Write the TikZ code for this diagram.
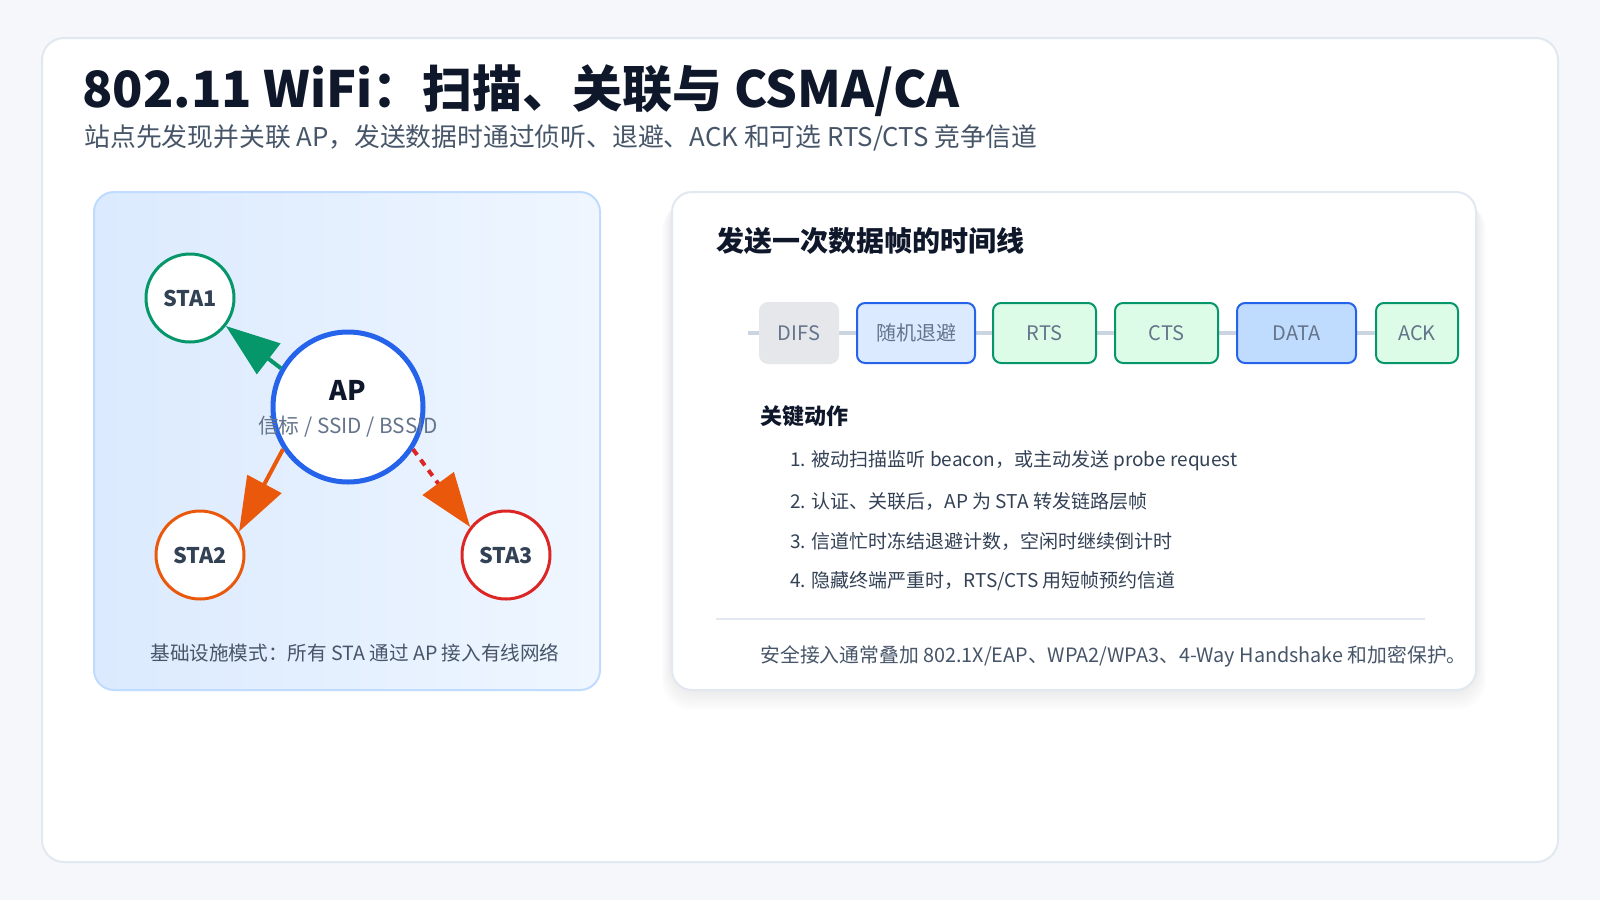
\documentclass[tikz,border=0pt]{standalone}
\usepackage{fontspec}
\setmainfont{Noto Sans CJK SC}
\usetikzlibrary{arrows.meta}

\definecolor{pagebg}{HTML}{F5F7FA}
\definecolor{cardline}{HTML}{E2E8F0}
\definecolor{ink}{HTML}{0F172A}
\definecolor{body}{HTML}{334155}
\definecolor{muted}{HTML}{475569}
\definecolor{slate}{HTML}{64748B}
\definecolor{wblue}{HTML}{2563EB}
\definecolor{wgreen}{HTML}{059669}
\definecolor{worange}{HTML}{EA580C}
\definecolor{wred}{HTML}{DC2626}
\definecolor{panelline}{HTML}{BFDBFE}
\definecolor{panelA}{HTML}{DBEAFE}
\definecolor{panelB}{HTML}{EFF6FF}
\definecolor{difsfill}{HTML}{E5E7EB}
\definecolor{rail}{HTML}{CBD5E1}
\definecolor{greenfill}{HTML}{DCFCE7}
\definecolor{bluefill}{HTML}{DBEAFE}
\definecolor{datafill}{HTML}{BFDBFE}

\begin{document}
\begin{tikzpicture}[x=0.5pt,y=-0.5pt,
    station/.style={circle, draw, line width=1.5pt, fill=white, minimum size=44pt, inner sep=0pt,
      font=\bfseries\fontsize{10.8}{12}\selectfont, text=body},
    link/.style={line width=2pt, -{Triangle[length=27pt,width=19pt]}},
    slot/.style={rounded corners=4pt, draw, line width=1pt, minimum height=30pt, inner sep=0pt,
      font=\fontsize{10}{11}\selectfont, text=slate},
    item/.style={anchor=west, inner sep=0pt, font=\fontsize{9.5}{11}\selectfont, text=body}]
   \useasboundingbox[fill=pagebg] (0,0) rectangle (1600,900);
   \draw[cardline, fill=white, line width=1pt, rounded corners=11pt] (42,38) rectangle (1558,862);

   % title
   \node[anchor=base west, inner sep=0pt, font=\bfseries\fontsize{25}{30}\selectfont, text=ink] (title) at (82,107) {802.11 WiFi：扫描、关联与 CSMA/CA};
   \node[anchor=west, inner sep=0pt, font=\fontsize{12.9}{15}\selectfont, text=muted] (subtitle) at (84,138) {站点先发现并关联 AP，发送数据时通过侦听、退避、ACK 和可选 RTS/CTS 竞争信道};

   % left panel: infrastructure mode
   \draw[panelline, line width=1pt, rounded corners=10pt, left color=panelA, right color=panelB] (94,192) rectangle (600,690);
   \node[circle, draw=wblue, line width=2.5pt, fill=white, minimum size=75pt] (AP) at (348,407) {};
   \node[font=\bfseries\fontsize{13.5}{16}\selectfont, text=ink] (aplabel) at (348,390) {AP};
   \node[font=\fontsize{10.4}{12}\selectfont, text=slate] (apsub) at (348,427) {信标 / SSID / BSSID};
   \node[station, draw=wgreen] (STA1) at (190,298) {STA1};
   \node[station, draw=worange] (STA2) at (200,555) {STA2};
   \node[station, draw=wred] (STA3) at (506,555) {STA3};
   \draw[link, wgreen] (AP.150) to (STA1.322);
   \draw[link, worange] (AP.213) to (STA2.31);
   \draw[line width=2pt, wred, dash pattern=on 3.5pt off 3pt,
     -{Triangle[length=27pt,width=19pt,color=worange]}] (AP.327) to (STA3.142);
   \node[font=\fontsize{9.8}{11}\selectfont, text=muted] (caption) at (355,653) {基础设施模式：所有 STA 通过 AP 接入有线网络};

   % right panel: timeline
   \foreach \s in {1,...,10}
     \fill[black, opacity=0.007, rounded corners=14pt] (672-\s,192+\s) rectangle (1476+\s,690+2*\s);
   \draw[cardline, line width=1pt, fill=white, rounded corners=10pt] (672,192) rectangle (1476,690);
   \node[anchor=west, inner sep=0pt, font=\bfseries\fontsize{14}{16}\selectfont, text=ink] (heading) at (716,241) {发送一次数据帧的时间线};
   \coordinate (railL) at (748,333);
   \coordinate (railR) at (1458,333);
   \draw[rail, line width=2pt] (railL) -- (railR);
   \node[slot, draw=difsfill, fill=difsfill, minimum width=39pt] (difs) at (799,333) {DIFS};
   \node[slot, draw=wblue, fill=bluefill, minimum width=59pt] (backoff) at (916,333) {随机退避};
   \node[slot, draw=wgreen, fill=greenfill, minimum width=51.5pt] (rts) at (1044.5,333) {RTS};
   \node[slot, draw=wgreen, fill=greenfill, minimum width=51.5pt] (cts) at (1166.5,333) {CTS};
   \node[slot, draw=wblue, fill=datafill, minimum width=59.5pt] (data) at (1296.5,333) {DATA};
   \node[slot, draw=wgreen, fill=greenfill, minimum width=41pt] (ack) at (1417,333) {ACK};

   \node[anchor=west, inner sep=0pt, font=\bfseries\fontsize{11}{13}\selectfont, text=ink] (keyact) at (760,416) {关键动作};
   \node[item] (step1) at (790,461) {1. 被动扫描监听 beacon，或主动发送 probe request};
   \node[item] (step2) at (790,501) {2. 认证、关联后，AP 为 STA 转发链路层帧};
   \node[item] (step3) at (790,541) {3. 信道忙时冻结退避计数，空闲时继续倒计时};
   \node[item] (step4) at (790,581) {4. 隐藏终端严重时，RTS/CTS 用短帧预约信道};
   \coordinate (sepL) at (716,619);
   \coordinate (sepR) at (1425,619);
   \draw[cardline, line width=1pt] (sepL) -- (sepR);
   \node[item, text=muted, font=\fontsize{9.9}{11}\selectfont] (footer) at (760,656) {安全接入通常叠加 802.1X/EAP、WPA2/WPA3、4-Way Handshake 和加密保护。};
\end{tikzpicture}
\end{document}
